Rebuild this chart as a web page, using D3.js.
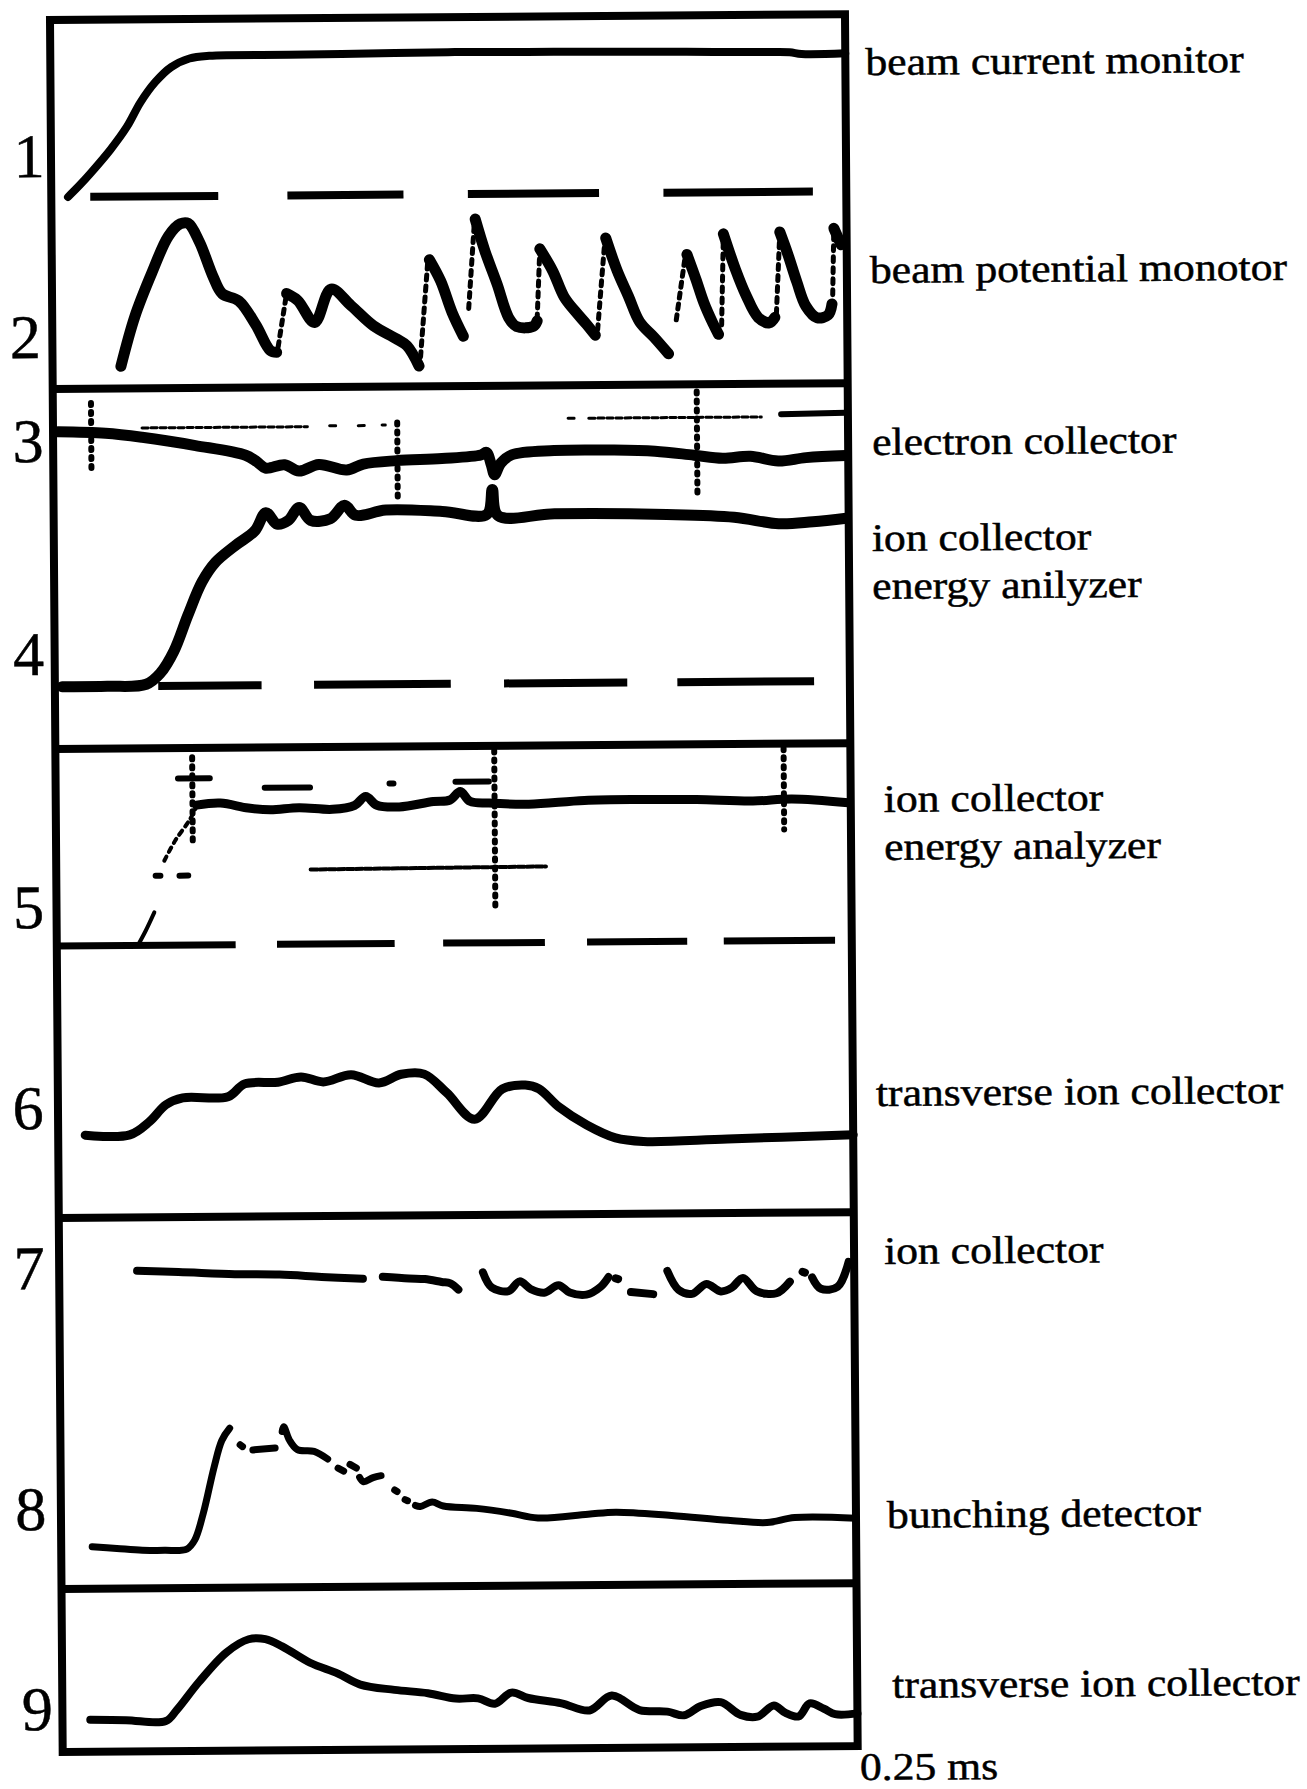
<!DOCTYPE html>
<html>
<head>
<meta charset="utf-8">
<script src="https://cdn.jsdelivr.net/npm/d3@7"></script>
<style>
  html, body { margin: 0; padding: 0; background: #fff; }
  svg { display: block; }
</style>
</head>
<body>
<svg id="chart" width="1307" height="1789"></svg>
<script>
// ---------------------------------------------------------------
// Oscilloscope records of one beam pulse, nine diagnostic channels.
// Time axis: percent of the 0.25 ms sweep. Signal axis: percent of
// the height of the strip the trace is drawn in.
// ---------------------------------------------------------------

const traceNumbers = ["1", "2", "3", "4", "5", "6", "7", "8", "9"];
const channelNames = [
  ["beam current monitor"],
  ["beam potential monotor"],
  ["electron collector"],
  ["ion collector", "energy anilyzer"],
  ["ion collector", "energy analyzer"],
  ["transverse ion collector"],
  ["ion collector"],
  ["bunching detector"],
  ["transverse ion collector"]
];
const sweepLabel = "0.25 ms";

// 1 — beam current monitor
const beamCurrent = [
  [2.1, 52], [3.5, 55], [5.0, 58.5], [7.5, 64.8], [9.6, 71], [11.3, 77.5],
  [13.2, 83], [15.2, 87], [17.5, 89.3], [20, 90], [30, 90.1], [40, 90.3],
  [50, 90.5], [60, 90.4], [70, 90.3], [80, 90.1], [90, 89.9], [93, 89.8],
  [94.5, 89.3], [100, 89.4]
];
const beamCurrentZero = 52;
const beamCurrentZeroDashes = [[4.9, 21.0], [29.7, 44.3], [52.4, 68.9], [77.0, 95.8]];

// 2 — beam potential monitor: slow sweeps and fast fly-backs
const beamPotentialSweeps = [
  [[8.6, 6], [10.4, 19.5], [12.6, 31.4], [14.7, 41.2], [16.2, 44.5], [17.2, 44.6],
   [18.6, 39.5], [20.3, 30], [21.4, 25.5], [23.5, 23.5], [25.6, 17], [27.4, 10], [28.2, 9.5]],
  [[29.5, 25.4], [30.9, 23.5], [33.0, 17.5], [35.1, 26.5], [37.6, 22], [40.4, 16.5],
   [43.2, 13], [44.6, 11], [46.1, 5.5]],
  [[47.5, 34.3], [48.9, 28.5], [50.3, 20], [51.7, 13.5]],
  [[53.3, 45.2], [54.5, 36.5], [56.0, 27.5], [57.4, 18.5], [58.4, 16], [60.5, 16], [61.0, 17.5]],
  [[61.4, 37], [63.0, 31], [64.4, 24], [65.8, 20], [67.2, 16.5], [68.3, 13.5]],
  [[69.7, 39.8], [71.1, 31], [72.5, 24], [73.9, 17], [75.7, 12.8], [77.5, 8.3]],
  [[79.9, 35.2], [81.0, 28.5], [82.0, 22], [83.1, 16.5], [83.8, 13.5]],
  [[84.5, 40.7], [86.0, 31], [87.3, 24], [88.8, 18], [90.2, 16.5], [90.9, 18]],
  [[91.6, 41.1], [92.6, 35], [93.7, 27.5], [94.8, 21], [96.2, 17.8], [97.6, 18.5], [98.1, 21.5]],
  [[98.4, 42], [99.3, 37.5]]
];
const beamPotentialFlybacks = [
  [[28.4, 11], [29.5, 25.4]],
  [[46.3, 8], [47.3, 34]],
  [[52.4, 21], [53.2, 44.5]],
  [[61.0, 18], [61.4, 37]],
  [[68.6, 15], [69.6, 39.5]],
  [[78.5, 17.5], [79.7, 35]],
  [[84.2, 16], [84.5, 40.5]],
  [[91.1, 19], [91.6, 41]],
  [[98.2, 24], [98.4, 42]]
];

// 3 — electron collector
const electronCollector = [
  [0.6, 88.1], [6.6, 87.6], [11.2, 86.4], [17.9, 84.0], [24.2, 81.2], [25.6, 79.4],
  [26.7, 77.6], [29.1, 78.5], [30.9, 76.7], [33.4, 78.5], [36.9, 76.9], [39.0, 78.5],
  [43.2, 79.4], [48.9, 79.9], [53.8, 80.8], [54.5, 81.5], [55.1, 78.0], [55.5, 75.3],
  [56.3, 78.5], [57.7, 80.8], [63.0, 81.9], [70.1, 81.9], [75.7, 81.5], [80.6, 80.3],
  [84.2, 79.4], [87.7, 79.9], [91.2, 78.5], [94.7, 79.4], [99.7, 79.9]
];
const electronCollectorGhost = [
  [[11.2, 89], [32, 89]], [[34.8, 89.2], [35.8, 89.2]], [[38.4, 89.2], [39.4, 89.2]],
  [[41.4, 89.3], [41.8, 89.3]], [[64.8, 90.8], [65.6, 90.8]], [[67.4, 90.8], [89.1, 90.8]]
];
const electronCollectorGhostBold = [[[91.6, 91.5], [99.7, 91.8]]];

// 4 — ion collector / energy analyzer
const ionCollectorA = [
  [0.9, 17.3], [6.6, 17.3], [11.5, 17.8], [13.3, 20.9], [15.0, 26.9], [16.8, 36.9],
  [18.6, 46.1], [20.3, 51.5], [22.8, 56.1], [25.3, 60.2], [26.7, 65.2], [28.1, 62.0],
  [29.5, 63.0], [30.9, 66.6], [32.3, 63.0], [34.8, 63.4], [36.6, 67.1], [38.0, 64.3],
  [41.8, 65.7], [48.9, 65.2], [54.5, 64.3], [55.2, 71.2], [55.9, 63.9], [63.0, 64.3],
  [77.1, 63.9], [85.6, 63.0], [91.2, 61.1], [95.5, 61.6], [99.7, 62.5]
];
const ionCollectorAZero = 17.3;
const ionCollectorAZeroDashes = [[13.0, 26.0], [32.6, 49.8], [56.5, 72.0], [78.3, 95.5]];
// time, upper and lower signal level of the trigger glitches
const stripBGlitches = [[4.8, 96, 78], [43.3, 90, 67.5], [81.0, 98, 68.9]];

// 5 — ion collector / energy analyzer
const ionAnalyzerRise = [[10.2, 58], [11.2, 61.1], [12.3, 65]];
const ionAnalyzerFastRise = [[13.6, 76], [15.0, 80.3], [16.8, 84.6], [17.7, 87.5]];
const ionAnalyzer = [
  [17.7, 87.8], [20.7, 88.2], [24.2, 87.1], [27.0, 86.7], [30.6, 87.1], [34.8, 86.7],
  [37.6, 87.5], [39.0, 89.4], [40.4, 87.5], [43.2, 87.1], [47.5, 88.2], [49.6, 88.5],
  [50.9, 90.3], [52.1, 88.2], [54.5, 87.8], [59.5, 87.5], [66.5, 88.2], [73.6, 88.3],
  [80.6, 88.2], [87.7, 87.8], [92.6, 88.2], [99.7, 87.3]
];
const ionAnalyzerGhost = [
  [[26.3, 91.4], [32.0, 91.4]], [[42.0, 92.1], [42.5, 92.1]], [[50.3, 92.4], [54.5, 92.4]],
  [[12.5, 72.8], [13.1, 72.8]], [[15.5, 72.8], [16.6, 72.8]], [[15.4, 93.5], [19.4, 93.5]]
];
const ionAnalyzerTrace = [[[32.0, 73.9], [61.6, 74.2]]];
const ionAnalyzerZero = 58;
const ionAnalyzerZeroDashes = [[0, 22.5], [27.7, 42.5], [48.6, 61.4], [66.7, 79.3], [83.9, 97.9]];
const stripCGlitches = [[17.2, 98, 79.6], [55.2, 99, 64.6], [91.6, 99, 81.7]];

// 6 — transverse ion collector
const transverseA = [
  [3.4, 17.6], [9.0, 17.6], [11.5, 20.4], [13.6, 24.0], [15.7, 25.4], [21.4, 25.6],
  [23.5, 28.3], [27.7, 28.6], [30.6, 29.7], [33.4, 28.6], [36.9, 30.1], [40.4, 28.3],
  [43.2, 30.1], [46.1, 30.1], [48.9, 26.1], [52.4, 20.4], [55.9, 26.8], [58.8, 27.6],
  [60.5, 26.8], [63.0, 22.9], [66.5, 19.0], [70.1, 16.2], [73.6, 15.4], [84.2, 15.8],
  [100, 16.5]
];

// 7 — ion collector
const ionCollectorB = [
  [[9.8, 85.6], [15, 85.2], [22.1, 84.5], [27.7, 84.3], [33, 83.6], [38.2, 83.0]],
  [[40.7, 83.5], [44, 83.0], [46.0, 82.8], [48.1, 82.0], [49.2, 81.6], [50.2, 79.9]],
  [[53.3, 84.5], [54.4, 80.4], [56.5, 79.4], [57.9, 82.0], [59.3, 79.9], [61.0, 78.9],
   [62.8, 80.9], [64.2, 78.9], [66.3, 78.3], [68.1, 80.4], [69.1, 83.0]],
  [[70.0, 82.6], [70.3, 82.4]],
  [[71.9, 78.9], [74.7, 78.3]],
  [[76.5, 84.5], [77.9, 79.4], [79.6, 78.3], [81.4, 80.9], [83.2, 78.9], [84.6, 79.9],
   [86.0, 82.5], [87.7, 78.9], [90.2, 78.3], [91.9, 81.4]],
  [[93.5, 84.0], [93.8, 83.8]],
  [[94.7, 82.5], [95.8, 79.4], [97.9, 79.9], [99.3, 86.6]]
];

// 8 — bunching detector
const bunching = [
  [[3.9, 11.3], [7, 10.8], [10.2, 10.3], [13, 10.2], [15.8, 10.5], [16.8, 12.9],
   [17.9, 20.1], [19.3, 32.5], [20.3, 39.7], [21.3, 43]],
  [[22.6, 38.5], [22.9, 38]],
  [[24.2, 37.1], [27.0, 37.6]],
  [[27.9, 42], [28.1, 43.3], [28.8, 39.7], [29.8, 37.1], [31.9, 36.6], [33.6, 34.5]],
  [[34.9, 32], [35.6, 31.2]],
  [[36.4, 33], [37.2, 32]],
  [[37.6, 29.5], [38.1, 28.3], [39.3, 29.4], [40.3, 29.9]],
  [[42.0, 26], [42.3, 25.6]],
  [[43.3, 23.4], [43.6, 23.1]],
  [[44.6, 21.8], [45.2, 21.5], [46.7, 22.7], [48.1, 21.6], [52.3, 20.9], [56.5, 19.6],
   [60, 18.2], [66.3, 19.1], [69.8, 19.6], [76.8, 18.6], [83.9, 17.2], [88.8, 16.5],
   [92.3, 17.8], [100, 17.5]]
];

// 9 — transverse ion collector
const transverseB = [
  [3.5, 19.7], [8, 19.2], [13.0, 18.5], [14.4, 25.3], [17.2, 42.3], [20.7, 60.4],
  [23.5, 68.3], [25.6, 68.3], [27.7, 63.8], [31.2, 53.6], [34.7, 46.8], [37.5, 40.0],
  [41.8, 36.6], [46.0, 34.4], [49.5, 31.0], [52.3, 31.0], [54.4, 27.6], [56.5, 34.4],
  [58.6, 31.0], [62.8, 27.6], [66.3, 23.1], [69.1, 32.1], [72.6, 23.1], [76.1, 22.0],
  [78.2, 19.7], [80.3, 25.3], [82.8, 27.6], [85.3, 19.7], [87.4, 18.5], [89.5, 25.3],
  [90.9, 20.9], [92.6, 18.5], [94.0, 26.4], [95.8, 23.1], [97.2, 19.7], [100, 20.1]
];

// ---------------------------------------------------------------
// Layout
// ---------------------------------------------------------------
const W = 1307, H = 1789;
const frame = { left: 50, right: 845, top: 20, bottom: 1752 };
const strips = {
  A: [20, 389], B: [389, 749], C: [749, 1218], D: [1218, 1589], E: [1589, 1752]
};
const ink = "#000";
const serif = "'Liberation Serif', 'Times New Roman', Times, serif";

const svg = d3.select("#chart").attr("viewBox", `0 0 ${W} ${H}`);
svg.append("rect").attr("width", W).attr("height", H).attr("fill", "#fff");

// the photographed sheet sits slightly tilted
const sheet = svg.append("g").attr("transform", `rotate(-0.42, ${frame.left}, ${frame.top})`);

const x = d3.scaleLinear().domain([0, 100]).range([frame.left, frame.right]);
const stripScale = band => d3.scaleLinear().domain([0, 100]).range([band[1], band[0]]);
const yA = stripScale(strips.A), yB = stripScale(strips.B), yC = stripScale(strips.C),
      yD = stripScale(strips.D), yE = stripScale(strips.E);

function traceLine(y, curve) {
  return d3.line()
    .x(d => x(d[0]))
    .y(d => y(d[1]))
    .curve(curve || d3.curveCatmullRom.alpha(0.5));
}

function drawTrace(points, y, width, opts = {}) {
  sheet.append("path")
    .attr("d", traceLine(y, opts.curve)(points))
    .attr("fill", "none")
    .attr("stroke", ink)
    .attr("stroke-width", width)
    .attr("stroke-linecap", opts.cap || "round")
    .attr("stroke-linejoin", "round")
    .attr("stroke-dasharray", opts.dash || null);
}

function drawSegments(segments, y, width, opts = {}) {
  segments.forEach(seg => drawTrace(seg, y, width, opts));
}

function drawZeroLine(ranges, level, y, width) {
  sheet.append("g").selectAll("line")
    .data(ranges)
    .join("line")
    .attr("x1", d => x(d[0]))
    .attr("x2", d => x(d[1]))
    .attr("y1", y(level))
    .attr("y2", y(level))
    .attr("stroke", ink)
    .attr("stroke-width", width)
    .attr("stroke-linecap", "butt");
}

function drawGlitches(glitches, y) {
  sheet.append("g").selectAll("line")
    .data(glitches)
    .join("line")
    .attr("x1", d => x(d[0]))
    .attr("x2", d => x(d[0]))
    .attr("y1", d => y(d[1]))
    .attr("y2", d => y(d[2]))
    .attr("stroke", ink)
    .attr("stroke-width", 6)
    .attr("stroke-linecap", "round")
    .attr("stroke-dasharray", "2 7");
}

// frame and strip dividers
sheet.append("rect")
  .attr("x", frame.left).attr("y", frame.top)
  .attr("width", frame.right - frame.left)
  .attr("height", frame.bottom - frame.top)
  .attr("fill", "none").attr("stroke", ink).attr("stroke-width", 8);

sheet.append("g").selectAll("line")
  .data([strips.A[1], strips.B[1], strips.C[1], strips.D[1]])
  .join("line")
  .attr("x1", frame.left).attr("x2", frame.right)
  .attr("y1", d => d).attr("y2", d => d)
  .attr("stroke", ink).attr("stroke-width", 8);

// strip A: traces 1 and 2
drawZeroLine(beamCurrentZeroDashes, beamCurrentZero, yA, 8);
drawTrace(beamCurrent, yA, 8);
drawSegments(beamPotentialSweeps, yA, 11);
drawSegments(beamPotentialFlybacks, yA, 5, { dash: "5 6", curve: d3.curveLinear });

// strip B: traces 3 and 4
drawSegments(electronCollectorGhost, yB, 3, { dash: "6 3", curve: d3.curveLinear });
drawSegments(electronCollectorGhostBold, yB, 6, { curve: d3.curveLinear });
drawTrace(electronCollector, yB, 11);
drawZeroLine(ionCollectorAZeroDashes, ionCollectorAZero, yB, 8);
drawTrace(ionCollectorA, yB, 11);
drawGlitches(stripBGlitches, yB);

// strip C: traces 5 and 6
drawZeroLine(ionAnalyzerZeroDashes, ionAnalyzerZero, yC, 7);
drawTrace(ionAnalyzerRise, yC, 4);
drawTrace(ionAnalyzerFastRise, yC, 4, { dash: "5 5" });
drawTrace(ionAnalyzer, yC, 9);
drawSegments(ionAnalyzerGhost, yC, 6, { curve: d3.curveLinear });
drawSegments(ionAnalyzerTrace, yC, 4, { dash: "7 2", curve: d3.curveLinear });
drawGlitches(stripCGlitches, yC);
drawTrace(transverseA, yC, 9);

// strip D: traces 7 and 8
drawSegments(ionCollectorB, yD, 8);
drawSegments(bunching, yD, 7);

// strip E: trace 9
drawTrace(transverseB, yE, 8);

// ---------------------------------------------------------------
// Text
// ---------------------------------------------------------------
function label(parent, txt, px, py, size, anchor, stretch) {
  parent.append("text")
    .attr("transform", `translate(${px},${py}) scale(${stretch},1)`)
    .attr("text-anchor", anchor || "start")
    .attr("font-family", serif)
    .attr("font-size", size)
    .attr("fill", ink)
    .attr("stroke", ink)
    .attr("stroke-width", 0.5)
    .text(txt);
}

const numberAnchors = [
  [28, 177], [23, 358], [25, 462], [24, 675], [22, 928],
  [20, 1129], [20, 1289], [20, 1530], [25, 1730]
];
traceNumbers.forEach((n, i) =>
  label(sheet, n, numberAnchors[i][0], numberAnchors[i][1], 62, "middle", 1.0));

const nameAnchors = [
  [865, 81], [868, 289], [869, 461], [868, 557], [878, 818],
  [868, 1112], [875, 1270], [876, 1534], [880, 1704]
];
const lineGap = 48;
channelNames.forEach((lines, i) => {
  lines.forEach((ln, j) =>
    label(sheet, ln, nameAnchors[i][0], nameAnchors[i][1] + j * lineGap, 39, "start", 1.12));
});

label(sheet, sweepLabel, 847, 1786, 39, "start", 1.12);
</script>
</body>
</html>
